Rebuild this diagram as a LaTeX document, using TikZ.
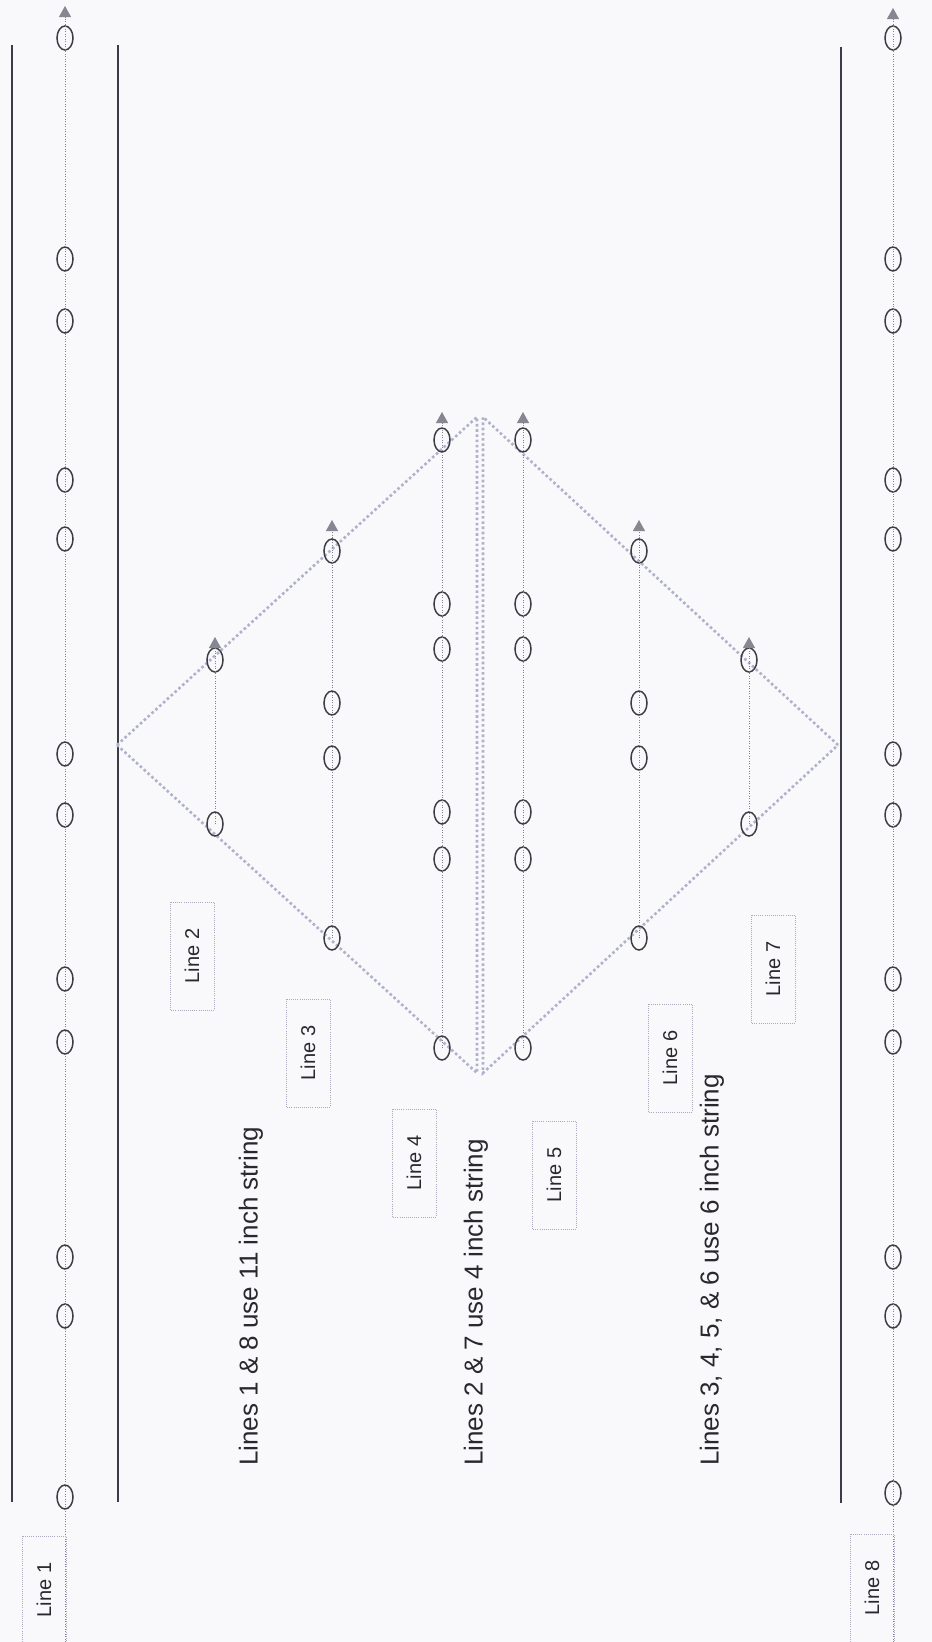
\documentclass[tikz,border=0pt]{standalone}
\usepackage{fontspec}
\setmainfont{Liberation Sans}
\usetikzlibrary{shapes.geometric,arrows.meta}
\definecolor{bgcol}{RGB}{249,249,252}
\definecolor{beadcol}{RGB}{60,60,66}
\definecolor{strcol}{RGB}{128,128,145}
\definecolor{tipcol}{RGB}{135,135,145}
\definecolor{edgecol}{RGB}{176,178,204}
\definecolor{boxcol}{RGB}{170,170,190}
\definecolor{txtcol}{RGB}{40,40,45}
\definecolor{railcol}{RGB}{60,60,70}
\begin{document}
\begin{tikzpicture}[x=1pt,y=-1pt,
  bead/.style={ellipse, draw=beadcol, line width=1.5pt, minimum width=16pt, minimum height=24pt, inner sep=0pt},
  stringline/.style={draw=strcol, line width=0.9pt, dash pattern=on 0.9pt off 1.6pt,
     -{Triangle[width=12pt,length=11pt,color=tipcol]}},
  edgeline/.style={draw=edgecol, line width=2.6pt, dash pattern=on 2.6pt off 2.6pt},
  linebox/.style={draw=boxcol, line width=0.7pt, dash pattern=on 0.7pt off 1.4pt, rotate=90,
     minimum width=108pt, minimum height=44pt, inner sep=0pt, text=txtcol, font=\fontsize{20}{24}\selectfont},
  bigtext/.style={rotate=90, anchor=west, inner sep=0pt, text=txtcol, font=\fontsize{26}{30}\selectfont},
  rail/.style={draw=railcol, line width=1.6pt}]
\useasboundingbox (0,0) rectangle (932,1642);
\fill[bgcol] (0,0) rectangle (932,1642);

% solid rails
\draw[rail] (12,45) -- (12,1502);
\draw[rail] (118,45) -- (118,1502);
\draw[rail] (841,47) -- (841,1503);

% diamond halves
\coordinate (dl) at (117,745);
\coordinate (dtl) at (477,417);
\coordinate (dbl) at (477,1073);
\coordinate (dtr) at (483,417);
\coordinate (dr) at (838,745);
\coordinate (dbr) at (483,1073);
\draw[edgeline] (dl) -- (dtl) -- (dbl) -- cycle;
\draw[edgeline] (dr) -- (dtr) -- (dbr) -- cycle;

% line 1 and line 8
\foreach \y [count=\i] in {38,259,321,480,539,754,815,979,1042,1257,1316,1497}
  \node[bead] (la\i) at (65,\y) {};
\foreach \y [count=\i] in {38,259,321,480,539,754,815,979,1042,1257,1316,1493}
  \node[bead] (lh\i) at (893,\y) {};
\coordinate (la-top) at (65,6);
\coordinate (la-bot) at (65,1642);
\coordinate (lh-top) at (893,8);
\coordinate (lh-bot) at (893,1642);
\draw[stringline] (la-bot) -- (la-top);
\draw[stringline] (lh-bot) -- (lh-top);

% line 2 and line 7
\foreach \y [count=\i] in {660,824}
  {\node[bead] (lb\i) at (215,\y) {};
   \node[bead] (lg\i) at (749,\y) {};}
\coordinate (lb-top) at (215,637);
\coordinate (lg-top) at (749,637);
\draw[stringline] (lb2.center) -- (lb-top);
\draw[stringline] (lg2.center) -- (lg-top);

% line 3 and line 6
\foreach \y [count=\i] in {551,703,758,938}
  {\node[bead] (lc\i) at (332,\y) {};
   \node[bead] (lf\i) at (639,\y) {};}
\coordinate (lc-top) at (332,520);
\coordinate (lf-top) at (639,520);
\draw[stringline] (lc4.center) -- (lc-top);
\draw[stringline] (lf4.center) -- (lf-top);

% line 4 and line 5
\foreach \y [count=\i] in {440,604,649,812,859,1048}
  {\node[bead] (ld\i) at (442,\y) {};
   \node[bead] (le\i) at (523,\y) {};}
\coordinate (ld-top) at (442,412);
\coordinate (le-top) at (523,412);
\draw[stringline] (ld6.center) -- (ld-top);
\draw[stringline] (le6.center) -- (le-top);

% labels
\node[linebox] (t1) at (44,1590) {Line 1};
\node[linebox] (t2) at (192,956) {Line 2};
\node[linebox] (t3) at (308,1053) {Line 3};
\node[linebox] (t4) at (414,1163) {Line 4};
\node[linebox] (t5) at (554,1175) {Line 5};
\node[linebox] (t6) at (670,1058) {Line 6};
\node[linebox] (t7) at (773,969) {Line 7};
\node[linebox] (t8) at (872,1588) {Line 8};

% notes
\node[bigtext] (n1) at (251,1466) {Lines 1 \& 8 use 11 inch string};
\node[bigtext] (n2) at (476,1466) {Lines 2 \& 7 use 4 inch string};
\node[bigtext] (n3) at (712,1466) {Lines 3, 4, 5, \& 6 use 6 inch string};
\end{tikzpicture}
\end{document}
